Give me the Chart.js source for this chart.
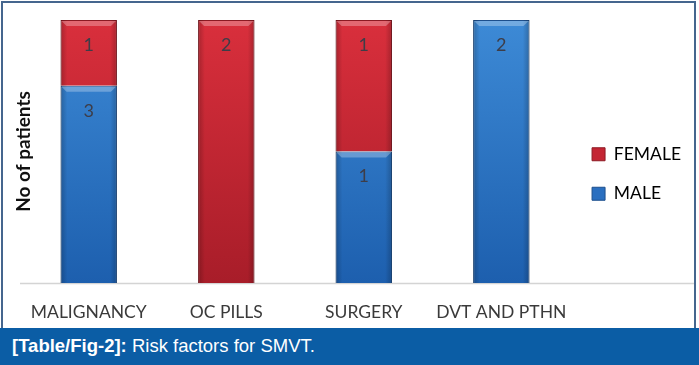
<!DOCTYPE html>
<html lang="en">
<head>
    <meta charset="UTF-8">
    <title>Risk factors for SMVT</title>
    <script src="https://cdn.jsdelivr.net/npm/chart.js"></script>
    <style>
        body { margin: 0; background: #fff; }
        #wrap { position: relative; width: 699px; height: 365px; overflow: hidden; }
        #chartBox { position: absolute; left: 0; top: 0; width: 699px; height: 328px; }
        #frame { position: absolute; left: 1px; top: 1px; width: 695px; height: 330px; box-sizing: border-box;
                 border: 2px solid #45668e; border-bottom: none; pointer-events: none; }
        #caption { position: absolute; left: 0; top: 328px; width: 699px; height: 37px; background: #0b5da5;
                   color: #fff; font-family: "Liberation Sans", Arial, sans-serif; font-size: 18.5px;
                   line-height: 36px; padding-left: 12px; box-sizing: border-box; }
        #caption b { font-weight: bold; }
    </style>
</head>
<body>
    <div id="wrap">
        <div id="chartBox"><canvas id="riskChart" width="699" height="328"></canvas></div>
        <div id="frame"></div>
        <div id="caption"><b>[Table/Fig-2]:</b> Risk factors for SMVT.</div>
    </div>

    <script>
        // chart data
        const categories = ['MALIGNANCY', 'OC PILLS', 'SURGERY', 'DVT AND PTHN'];
        const maleCounts = [3, 0, 1, 2];
        const femaleCounts = [1, 2, 1, 0];

        // 100% stacked: each column shares out by its total
        const totals = categories.map((_, i) => maleCounts[i] + femaleCounts[i]);
        const toShare = arr => arr.map((v, i) => v / totals[i] * 100);

        const labelFont = 'Lato, "Open Sans", sans-serif';

        function vGrad(ctx, area, top, bottom) {
            if (!area) return bottom;
            const g = ctx.createLinearGradient(0, area.top, 0, area.bottom);
            g.addColorStop(0, top);
            g.addColorStop(1, bottom);
            return g;
        }

        // bevel shading + count labels on each segment
        const barDeco = {
            id: 'barDeco',
            afterDatasetsDraw(chart) {
                const ctx = chart.ctx;
                ctx.save();
                chart.data.datasets.forEach((ds, di) => {
                    chart.getDatasetMeta(di).data.forEach((bar, i) => {
                        if (!ds.counts[i]) return;
                        const half = bar.width / 2;
                        const l = bar.x - half, r = bar.x + half;
                        const t = bar.y, b = bar.base;
                        // darker sides
                        const side = ctx.createLinearGradient(l, 0, r, 0);
                        side.addColorStop(0, 'rgba(0,0,0,0.22)');
                        side.addColorStop(0.12, 'rgba(0,0,0,0)');
                        side.addColorStop(0.88, 'rgba(0,0,0,0)');
                        side.addColorStop(1, 'rgba(0,0,0,0.22)');
                        ctx.fillStyle = side;
                        ctx.fillRect(l, t, r - l, b - t);
                        // light top bevel
                        ctx.fillStyle = 'rgba(255,255,255,0.28)';
                        ctx.beginPath();
                        ctx.moveTo(l + 1, t + 1);
                        ctx.lineTo(r - 1, t + 1);
                        ctx.lineTo(r - 6, t + 6);
                        ctx.lineTo(l + 6, t + 6);
                        ctx.closePath();
                        ctx.fill();
                    });
                });
                ctx.font = '18px ' + labelFont;
                ctx.fillStyle = '#3d3d48';
                ctx.textAlign = 'center';
                ctx.textBaseline = 'middle';
                chart.data.datasets.forEach((ds, di) => {
                    chart.getDatasetMeta(di).data.forEach((bar, i) => {
                        const n = ds.counts[i];
                        if (!n) return;
                        ctx.fillText(String(n), bar.x, bar.y + 25);
                    });
                });
                ctx.restore();
            }
        };

        // baseline runs under the legend too
        const baseLine = {
            id: 'baseLine',
            beforeDatasetsDraw(chart) {
                const ctx = chart.ctx;
                const y = chart.scales.y.getPixelForValue(0) + 0.5;
                ctx.save();
                ctx.strokeStyle = '#d4d4d4';
                ctx.lineWidth = 1.5;
                ctx.beginPath();
                ctx.moveTo(chart.chartArea.left, y);
                ctx.lineTo(chart.width - 4, y);
                ctx.stroke();
                ctx.restore();
            }
        };

        new Chart(document.getElementById('riskChart'), {
            type: 'bar',
            data: {
                labels: categories,
                datasets: [
                    {
                        label: 'MALE',
                        data: toShare(maleCounts),
                        counts: maleCounts,
                        backgroundColor: c => vGrad(c.chart.ctx, c.chart.chartArea, '#3d8ad6', '#1d5fae'),
                        borderColor: '#1d4f8c',
                        borderWidth: 1
                    },
                    {
                        label: 'FEMALE',
                        data: toShare(femaleCounts),
                        counts: femaleCounts,
                        backgroundColor: c => vGrad(c.chart.ctx, c.chart.chartArea, '#d92f3c', '#a81d29'),
                        borderColor: '#8c1a23',
                        borderWidth: 1
                    }
                ]
            },
            options: {
                responsive: false,
                animation: false,
                barPercentage: 0.41,
                categoryPercentage: 1,
                layout: { padding: { left: 2, top: 20, right: 8, bottom: 0 } },
                plugins: {
                    legend: {
                        position: 'right',
                        reverse: true,
                        labels: {
                            boxWidth: 13,
                            boxHeight: 13,
                            padding: 22,
                            color: '#3a3a3a',
                            font: { family: labelFont, size: 17.5 },
                            generateLabels: chart => chart.data.datasets.map((ds, i) => ({
                                text: ds.label,
                                fillStyle: i === 0 ? '#2a6fc0' : '#c42533',
                                strokeStyle: i === 0 ? '#1d4f8c' : '#8c1a23',
                                lineWidth: 1,
                                datasetIndex: i
                            }))
                        }
                    },
                    tooltip: { enabled: false }
                },
                scales: {
                    x: {
                        stacked: true,
                        grid: { display: false, drawTicks: false },
                        border: { display: false },
                        ticks: {
                            color: '#3a3a3a',
                            padding: 19,
                            maxRotation: 0,
                            font: { family: labelFont, size: 17.5 }
                        },
                        afterFit(scale) { scale.height = 45; }
                    },
                    y: {
                        stacked: true,
                        min: 0,
                        max: 100,
                        grid: { display: false },
                        border: { display: false },
                        ticks: { display: false },
                        title: {
                            display: true,
                            text: 'No of patients',
                            color: '#111',
                            padding: { top: 10, bottom: 0 },
                            font: { family: labelFont, size: 19, weight: 'bold' }
                        },
                        afterFit(scale) { scale.width = 18; }
                    }
                }
            },
            plugins: [baseLine, barDeco]
        });
    </script>
</body>
</html>
